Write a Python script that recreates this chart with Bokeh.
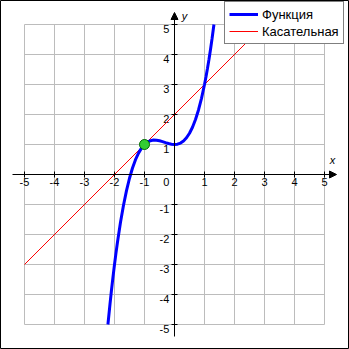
from bokeh.plotting import figure
from bokeh.models import Range1d, Arrow, NormalHead, Legend, LegendItem
from bokeh.core.properties import value
from bokeh.embed import file_html
from bokeh.resources import INLINE

# Grid / tick values
ticks = [-5, -4, -3, -2, -1, 0, 1, 2, 3, 4, 5]
tick_labels = ["-5", "-4", "-3", "-2", "-1", "0", "1", "2", "3", "4", "5"]

# Function curve f(x) = x^3 + x^2 + 1
func_x = [-2.219, -2.2, -2.15, -2.1, -2.05, -2.0, -1.95, -1.9, -1.8, -1.7, -1.6, -1.5,
          -1.4, -1.3, -1.2, -1.1, -1.0, -0.9, -0.8, -0.7, -0.6, -0.5, -0.4, -0.3,
          -0.2, -0.1, 0.0, 0.1, 0.2, 0.3, 0.4, 0.5, 0.6, 0.7, 0.8, 0.9, 1.0, 1.05,
          1.1, 1.15, 1.2, 1.25, 1.3145]
func_y = [-5.0, -4.808, -4.316, -3.851, -3.413, -3.0, -2.612, -2.249, -1.592, -1.023,
          -0.536, -0.125, 0.216, 0.493, 0.712, 0.879, 1.0, 1.081, 1.128, 1.147, 1.144,
          1.125, 1.096, 1.063, 1.032, 1.009, 1.0, 1.011, 1.048, 1.117, 1.224, 1.375,
          1.576, 1.833, 2.152, 2.539, 3.0, 3.260, 3.541, 3.843, 4.168, 4.516, 5.0]

# Tangent line y = x + 2 at x0 = -1
tangent_x = [-5, 3]
tangent_y = [-3, 5]

# Point of tangency
point_x = [-1]
point_y = [1]

FONT_NAME = "Liberation Sans"
FONT = value(FONT_NAME)
GRID = "#bcbcbc"

p = figure(width=349, height=349, min_border=0, toolbar_location=None,
           output_backend="svg", x_range=Range1d(-5.8, 5.8333),
           y_range=Range1d(-5.8333, 5.8), x_axis_type=None, y_axis_type=None)
p.grid.visible = False
p.outline_line_color = "black"
p.outline_line_width = 1
p.background_fill_color = "white"
p.border_fill_color = "white"

lo, hi = ticks[0], ticks[-1]

# grid
p.segment(x0=ticks, y0=[lo] * len(ticks), x1=ticks, y1=[hi] * len(ticks),
          line_color=GRID, line_width=1)
p.segment(x0=[lo] * len(ticks), y0=ticks, x1=[hi] * len(ticks), y1=ticks,
          line_color=GRID, line_width=1)

# axes with arrows
ext = 0.4
p.add_layout(Arrow(end=NormalHead(size=7, fill_color="black", line_color="black", line_width=1),
                   x_start=lo - ext, y_start=0, x_end=hi + ext, y_end=0,
                   line_color="black", line_width=1))
p.add_layout(Arrow(end=NormalHead(size=7, fill_color="black", line_color="black", line_width=1),
                   x_start=0, y_start=lo - ext, x_end=0, y_end=hi + ext,
                   line_color="black", line_width=1))

# tick marks
tk = 0.1
nz = [t for t in ticks if t != 0]
p.segment(x0=nz, y0=[-tk] * len(nz), x1=nz, y1=[tk] * len(nz), line_color="black", line_width=1)
p.segment(x0=[-tk] * len(nz), y0=nz, x1=[tk] * len(nz), y1=nz, line_color="black", line_width=1)

# tick labels
xl = [(t, l) for t, l in zip(ticks, tick_labels) if t != 0]
p.text(x=[t for t, _ in xl], y=[-0.1] * len(xl), text=[l for _, l in xl],
       text_font=FONT, text_font_size="11px", text_align="center",
       text_baseline="top", text_color="black")
p.text(x=[-0.17] * len(xl), y=[t for t, _ in xl], text=[l for _, l in xl],
       text_font=FONT, text_font_size="11px", text_align="right",
       text_baseline="top", text_color="black")
p.text(x=[-0.17], y=[-0.1], text=["0"], text_font=FONT, text_font_size="11px",
       text_align="right", text_baseline="top", text_color="black")

# axis names
p.text(x=[5.27], y=[0.47], text=["x"], text_font=FONT, text_font_size="11px",
       text_font_style="italic", text_align="center", text_baseline="middle")
p.text(x=[0.33], y=[5.27], text=["y"], text_font=FONT, text_font_size="11px",
       text_font_style="italic", text_align="center", text_baseline="middle")

# tangent and function
r_tan = p.line(tangent_x, tangent_y, line_color="#ff0000", line_width=1)
r_fun = p.line(func_x, func_y, line_color="#0000ff", line_width=3)
p.scatter(point_x, point_y, size=10, fill_color="#33cc33", line_color="#006600", line_width=1)

legend = Legend(items=[LegendItem(label="Функция", renderers=[r_fun]),
                       LegendItem(label="Касательная", renderers=[r_tan])],
                location=(224, 305), orientation="vertical",
                border_line_color="black", border_line_width=1,
                background_fill_color="white", background_fill_alpha=1.0,
                padding=4, spacing=1, margin=0, label_standoff=4,
                glyph_width=29, glyph_height=16, label_height=16,
                label_text_font=FONT_NAME, label_text_font_size="13px",
                label_text_font_style="normal", label_text_color="black")
p.add_layout(legend)

open("out.html", "w").write(file_html(p, INLINE))
